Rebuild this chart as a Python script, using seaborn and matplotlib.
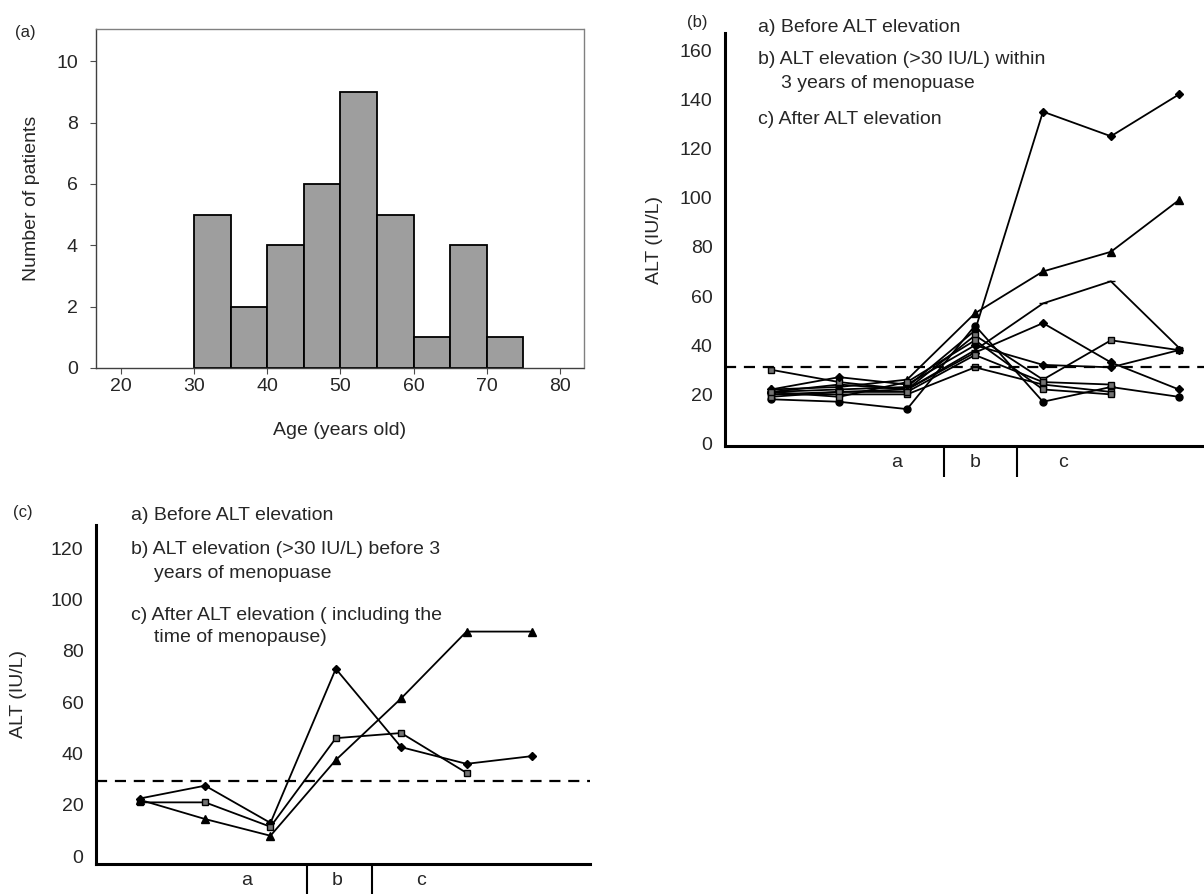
import numpy as np
import pandas as pd
import seaborn as sns
import matplotlib.pyplot as plt

# ---- data ----
# (a) age histogram, bins of 5 years
bin_edges = [30, 35, 40, 45, 50, 55, 60, 65, 70, 75]
bin_counts = [5, 2, 4, 6, 9, 5, 1, 4, 1]

# (b) ALT over 7 visits, patients with elevation within 3 years of menopause
nan = np.nan
b_visits = [0, 1, 2, 3, 4, 5, 6]
b_series = [
    ("D", [21, 22, 23, 46, 135, 125, 142]),
    ("^", [22, 23, 26, 53, 70, 78, 99]),
    ("_", [20, 21, 22, 38, 57, 66, 39]),
    ("D", [21, 24, 22, 37, 49, 33, 22]),
    ("s", [30, 25, 22, 44, 26, 42, 38]),
    ("D", [22, 27, 24, 40, 32, 31, 38]),
    ("o", [18, 17, 14, 48, 17, 23, 19]),
    ("s", [20, 20, 20, 31, 24, 21, nan]),
    ("s", [19, 21, 21, 36, 25, 24, nan]),
    ("s", [21, 19, 25, 42, 22, 20, nan]),
]

# (c) ALT over 7 visits, patients with elevation before 3 years of menopause
c_visits = [0, 1, 2, 3, 4, 5, 6]
c_series = [
    ("D", [22.5, 27.5, 13, 73, 42.5, 36, 39]),
    ("s", [21, 21, 11.5, 46, 48, 32.5, nan]),
    ("^", [22, 14.5, 8, 37.5, 61.5, 87.5, 87.5]),
]

sns.set_style("white")
plt.rcParams['font.family'] = ['Liberation Sans', 'DejaVu Sans']

W, H = 1204, 894
fig = plt.figure(figsize=(W / 100, H / 100), dpi=100)


def box(l, t, r, b):
    return [l / W, 1 - b / H, (r - l) / W, (b - t) / H]


def pt(x, y):
    return x / W, 1 - y / H


FS = 14

# ---- (a) histogram ----
ax = fig.add_axes(box(96, 29, 584, 368))
mids = [(lo + hi) / 2 for lo, hi in zip(bin_edges[:-1], bin_edges[1:])]
sns.histplot(x=mids, weights=bin_counts, bins=bin_edges, color="#9e9e9e",
             edgecolor="black", linewidth=1.3, alpha=1, ax=ax)
ax.set_xlim(16.6, 83.3)
ax.set_ylim(0, 11.05)
ax.set_xticks([20, 30, 40, 50, 60, 70, 80])
ax.set_yticks([0, 2, 4, 6, 8, 10])
ax.tick_params(axis="both", labelsize=FS, length=4, width=0.8, color="0.3",
               direction="out", left=True, bottom=True)
ax.tick_params(axis="y", pad=9)
ax.tick_params(axis="x", pad=3)
for side, sp in ax.spines.items():
    sp.set_visible(True)
    sp.set_linewidth(1.0)
    sp.set_linestyle((0, (1, 1)))
    sp.set_color("0.25" if side in ("left", "bottom") else "0.5")
ax.set_xlabel("Age (years old)", fontsize=FS, labelpad=20)
ax.set_ylabel("Number of patients", fontsize=FS, labelpad=12)
fig.text(*pt(15, 32), "(a)", fontsize=FS - 2, va="center", ha="left")


def alt_panel(ax, visits, series, ylim, yticks, thr, xlim, seps, labpos):
    for mk, vals in series:
        ms = {"D": 4, "^": 6, "s": 5, "o": 5, "_": 6}[mk]
        fc = "0.45" if mk == "s" else "black"
        sns.lineplot(x=visits, y=vals, marker=mk, color="black", lw=1.3,
                     markersize=ms, markerfacecolor=fc, markeredgecolor="black",
                     markeredgewidth=1.0, ax=ax)
    ax.axhline(thr, color="black", lw=1.6, ls=(0, (5, 3.5)))
    ax.set_xlim(*xlim)
    ax.set_ylim(*ylim)
    ax.set_yticks(yticks)
    ax.tick_params(axis="y", labelsize=FS, length=0, pad=9)
    # separators between phases as long ticks, phase names as minor labels
    ax.set_xticks(seps)
    ax.set_xticklabels([])
    ax.tick_params(axis="x", which="major", length=22, width=1.5,
                   color="black", direction="out", bottom=True)
    ax.set_xticks(labpos, minor=True)
    ax.set_xticklabels(["a", "b", "c"], minor=True)
    ax.tick_params(axis="x", which="minor", length=0, labelsize=FS, pad=6)
    for side in ("top", "right"):
        ax.spines[side].set_visible(False)
    for side in ("left", "bottom"):
        ax.spines[side].set_linewidth(2.2)
        ax.spines[side].set_color("black")
    ax.set_xlabel("")
    ax.set_ylabel("ALT (IU/L)", fontsize=FS)


# ---- (b) ----
axb = fig.add_axes(box(725, 33, 1204, 446))
alt_panel(axb, b_visits, b_series, (-1, 167), list(range(0, 161, 20)), 31,
          (-0.68, 6.37), [2.54, 3.62], [1.84, 3.0, 4.3])
axb.yaxis.labelpad = 12
fig.text(*pt(697, 22), "(b)", fontsize=FS - 2, va="center", ha="center")
for x, y, s in [(758, 28, "a) Before ALT elevation"),
                (758, 60, "b) ALT elevation (>30 IU/L) within"),
                (781, 83, "3 years of menopuase"),
                (758, 120, "c) After ALT elevation")]:
    fig.text(*pt(x, y), s, fontsize=FS, va="center", ha="left")

# ---- (c) ----
axc = fig.add_axes(box(96, 525, 590, 864))
alt_panel(axc, c_visits, c_series, (-3, 129), list(range(0, 121, 20)), 29.5,
          (-0.67, 6.89), [2.56, 3.55], [1.64, 3.02, 4.3])
axc.yaxis.labelpad = 17
fig.text(*pt(23, 513), "(c)", fontsize=FS - 2, va="center", ha="center")
for x, y, s in [(131, 515, "a) Before ALT elevation"),
                (131, 549, "b) ALT elevation (>30 IU/L) before 3"),
                (154, 573, "years of menopuase"),
                (131, 615, "c) After ALT elevation ( including the"),
                (154, 638, "time of menopause)")]:
    fig.text(*pt(x, y), s, fontsize=FS, va="center", ha="left")

fig.savefig("out.png", dpi=100)
